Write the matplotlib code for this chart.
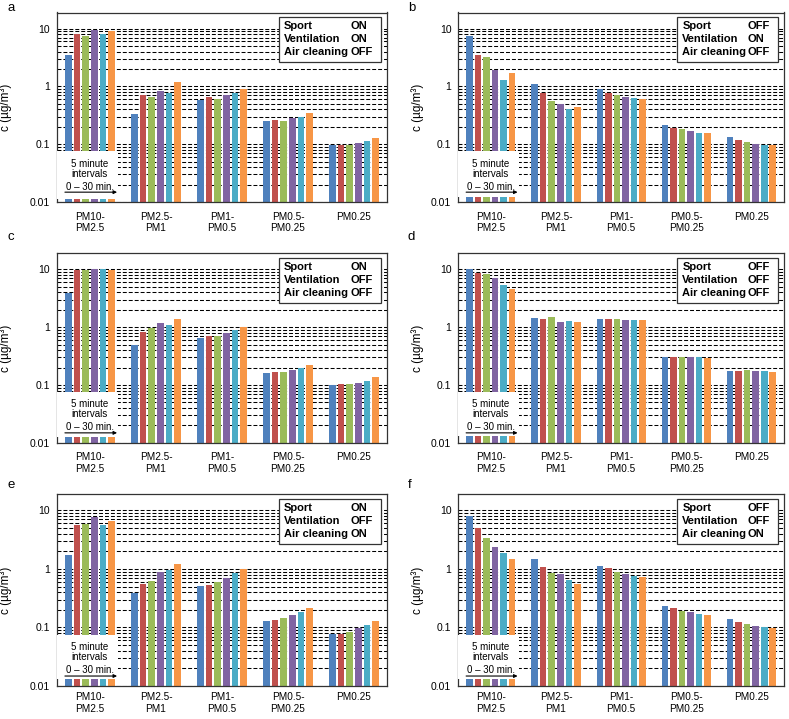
"""
Six-panel log-scale bar charts of particle mass concentration per size bin,
one bar per 5-minute interval (0-30 min), for different room settings.
"""

import numpy as np
import matplotlib

matplotlib.use("Agg")
import matplotlib.pyplot as plt
from matplotlib.patches import Rectangle
from matplotlib.ticker import FixedLocator, LogLocator, NullFormatter

plt.rcParams["font.family"] = ["Liberation Sans", "DejaVu Sans"]

categories = ["PM10-\nPM2.5", "PM2.5-\nPM1", "PM1-\nPM0.5", "PM0.5-\nPM0.25", "PM0.25"]
interval_colors = ["#4F81BD", "#C0504D", "#9BBB59", "#8064A2", "#4BACC6", "#F79646"]

# c in ug/m3; one row per size bin, one column per 5-minute interval
conc_a = [
    [3.45, 8.2, 7.5, 9.6, 8.1, 9.0],
    [0.336, 0.70, 0.645, 0.83, 0.77, 1.17],
    [0.59, 0.65, 0.61, 0.72, 0.77, 0.91],
    [0.254, 0.261, 0.254, 0.283, 0.30, 0.34],
    [0.095, 0.097, 0.095, 0.105, 0.114, 0.13],
]
conc_b = [
    [7.4, 3.5, 3.24, 1.96, 1.31, 1.73],
    [1.08, 0.76, 0.57, 0.505, 0.40, 0.44],
    [0.90, 0.76, 0.70, 0.65, 0.62, 0.61],
    [0.219, 0.194, 0.184, 0.17, 0.159, 0.159],
    [0.132, 0.116, 0.11, 0.10, 0.096, 0.096],
]
conc_c = [
    [3.86, 9.7, 9.6, 10.0, 10.0, 9.9],
    [0.50, 0.84, 0.97, 1.20, 1.07, 1.41],
    [0.64, 0.70, 0.70, 0.80, 0.89, 1.0],
    [0.163, 0.165, 0.168, 0.18, 0.20, 0.22],
    [0.10, 0.104, 0.103, 0.11, 0.119, 0.135],
]
conc_d = [
    [10.3, 8.8, 8.3, 7.1, 5.4, 4.5],
    [1.46, 1.37, 1.52, 1.23, 1.30, 1.22],
    [1.39, 1.39, 1.41, 1.35, 1.34, 1.32],
    [0.306, 0.306, 0.31, 0.306, 0.30, 0.29],
    [0.176, 0.176, 0.178, 0.172, 0.172, 0.166],
]
conc_e = [
    [1.71, 5.7, 5.85, 7.6, 5.7, 6.5],
    [0.385, 0.55, 0.62, 0.89, 0.94, 1.22],
    [0.51, 0.535, 0.59, 0.71, 0.84, 1.0],
    [0.13, 0.135, 0.146, 0.164, 0.18, 0.216],
    [0.077, 0.078, 0.085, 0.096, 0.111, 0.128],
]
conc_f = [
    [8.0, 5.0, 3.33, 2.34, 1.90, 1.46],
    [1.46, 1.08, 0.855, 0.81, 0.65, 0.555],
    [1.12, 1.03, 0.89, 0.82, 0.76, 0.73],
    [0.234, 0.211, 0.192, 0.18, 0.173, 0.164],
    [0.137, 0.123, 0.115, 0.107, 0.10, 0.096],
]

panel_letters = ["a", "b", "c", "d", "e", "f"]
sport = ["ON", "OFF", "ON", "OFF", "ON", "OFF"]
ventilation = ["ON", "ON", "OFF", "OFF", "OFF", "OFF"]
air_cleaning = ["OFF", "OFF", "OFF", "OFF", "ON", "ON"]

panels = [conc_a, conc_b, conc_c, conc_d, conc_e, conc_f]

# layout (figure pixels 789 x 719)
W, H = 789, 719
col_x = [(57, 387), (458.3, 784)]
row_y = [(12.5, 202), (253.3, 442.7), (494, 686)]
label_pad = [7, 7, 4.5]
ylabel_x = [-0.137, -0.105]
key_bottom = [0.0112, 0.0121, 0.0125, 0.013, 0.013, 0.0132]
letter_pos = [(7, 8), (408, 8), (7, 237), (408, 237), (7, 485), (408, 485)]

slot = 0.131
bar_w = 0.101
x = np.arange(len(categories))

fig = plt.figure(figsize=(W / 100, H / 100), dpi=100)

for i, conc in enumerate(panels):
    r, c = divmod(i, 2)
    x0, x1 = col_x[c]
    y0, y1 = row_y[r]
    ax = fig.add_axes([x0 / W, 1 - y1 / H, (x1 - x0) / W, (y1 - y0) / H])

    vals = np.array(conc)
    for j in range(vals.shape[1]):
        ax.bar(x + (j - 2.5) * slot, vals[:, j], bar_w,
               color=interval_colors[j], zorder=2)

    ax.set_yscale("log")
    ax.set_ylim(0.01, 19)
    ax.set_xlim(-0.5, len(categories) - 0.5)

    ax.yaxis.set_major_locator(FixedLocator([0.01, 0.1, 1, 10]))
    ax.set_yticklabels(["0.01", "0.1", "1", "10"])
    ax.yaxis.set_minor_locator(LogLocator(base=10, subs=np.arange(2, 10)))
    ax.yaxis.set_minor_formatter(NullFormatter())
    ax.yaxis.grid(True, which="both", color="black", linewidth=0.75,
                  linestyle=(0, (3.8, 1.9)))
    ax.set_axisbelow(True)
    ax.tick_params(axis="y", which="both", length=0, pad=5, labelsize=7.5)
    ax.set_xticks(x)
    ax.set_xticklabels(categories, fontsize=7.2, linespacing=1.2)
    ax.tick_params(axis="x", length=0, pad=label_pad[r])

    for s in ax.spines.values():
        s.set_linewidth(0.9)
        s.set_color("#333333")

    ax.set_ylabel("c (µg/m³)", fontsize=8.5)
    ax.yaxis.set_label_coords(ylabel_x[c], 0.5)

    # "5 minute intervals" key over the first group
    ax.add_patch(Rectangle((-0.5, key_bottom[i]), 0.93, 0.075 - key_bottom[i],
                           facecolor="white", edgecolor="none", zorder=3))
    ax.text(0, 0.046, "5 minute", ha="center", va="center", fontsize=7, zorder=4)
    ax.text(0, 0.031, "intervals", ha="center", va="center", fontsize=7, zorder=4)
    ax.text(0, 0.0185, "0 – 30 min.", ha="center", va="center", fontsize=7, zorder=4)
    ax.annotate("", xy=(0.41, 0.0148), xytext=(-0.38, 0.0148),
                arrowprops=dict(arrowstyle="-|>", color="black", lw=0.8,
                                mutation_scale=5, shrinkA=0, shrinkB=0),
                zorder=4)

    # settings box, top right
    ax.add_patch(Rectangle((0.672, 0.739), 0.31, 0.237, transform=ax.transAxes,
                           facecolor="white", edgecolor="#333333", linewidth=0.9,
                           zorder=5))
    rows = [("Sport", sport[i]), ("Ventilation", ventilation[i]),
            ("Air cleaning", air_cleaning[i])]
    for (name, state), ty in zip(rows, [0.929, 0.859, 0.790]):
        ax.text(0.688, ty, name, transform=ax.transAxes, fontsize=8,
                fontweight="bold", va="center", ha="left", zorder=6)
        ax.text(0.889, ty, state, transform=ax.transAxes, fontsize=8,
                fontweight="bold", va="center", ha="left", zorder=6)

    lx, ly = letter_pos[i]
    fig.text(lx / W, 1 - ly / H, panel_letters[i], fontsize=9.5,
             ha="left", va="center")

fig.savefig("out.png", dpi=100, facecolor="white")
plt.close(fig)
